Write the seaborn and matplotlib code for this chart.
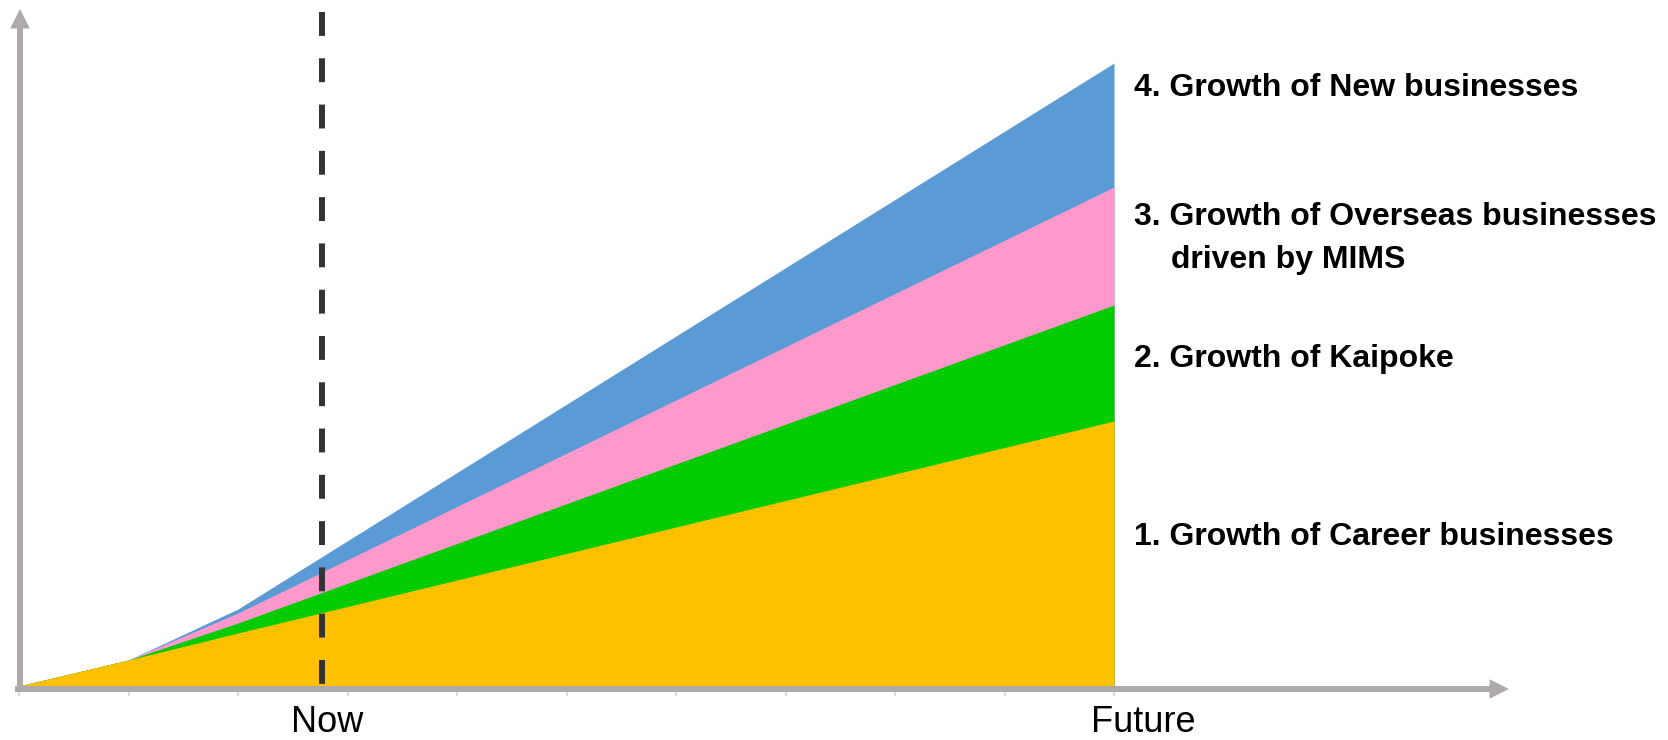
import matplotlib
matplotlib.use("Agg")
import matplotlib.pyplot as plt
import seaborn as sns

# ---- data (arbitrary units) ----
x_points = [0, 1, 2, 10]
career = [0, 26, 53, 265]
kaipoke = [0, 0, 10, 116]
overseas = [0, 0, 10, 118]
new_biz = [0, 0, 4, 124]

series_labels = ["1. Growth of Career businesses",
                 "2. Growth of Kaipoke",
                 "3. Growth of Overseas businesses",
                 "4. Growth of New businesses"]
label_second_line = "driven by MIMS"
tick_positions = list(range(11))
now_x = 2.77
future_x = 10
axis_labels = ["Now", "Future"]

colors = ["#FFC000", "#00CC00", "#FF99CC", "#5B9BD5"]
gray = "#AEAAAA"

sns.set_theme(style="white")
plt.rcParams['font.family'] = ['Liberation Sans', 'DejaVu Sans']

fig = plt.figure(figsize=(16.68, 7.4), dpi=100)
px_per_unit = 109.5
ax = fig.add_axes([19 / 1668, 54 / 740, 1649 / 1668, 686 / 740])
ax.set_xlim(0, 1649 / px_per_unit)
ax.set_ylim(0, 686)

# cumulative stacks, drawn from the baseline in reverse so no seams appear
layers = [career, kaipoke, overseas, new_biz]
cum = []
running = [0] * len(x_points)
for layer in layers:
    running = [a + b for a, b in zip(running, layer)]
    cum.append(running)
for top, col in reversed(list(zip(cum, colors))):
    ax.fill_between(x_points, 0, top, color=col, lw=0, zorder=1)

# ticks
ax.set_xticks(tick_positions)
ax.set_yticks([])
ax.tick_params(axis='x', bottom=True, length=7, width=1.5, color='#D9D9D9',
               direction='out', labelbottom=False)
sns.despine(ax=ax, left=True, bottom=True)

# axis lines with arrow heads
ax.plot([-4 / px_per_unit, 13.45], [-3, -3], color=gray, lw=4.3,
        solid_capstyle='butt', clip_on=False, zorder=3)
ax.plot([1 / px_per_unit, 1 / px_per_unit], [-6, 660], color=gray, lw=4.3,
        solid_capstyle='butt', clip_on=False, zorder=3)
head = dict(arrowstyle='-|>,head_length=0.7,head_width=0.35', color=gray,
            lw=0, shrinkA=0, shrinkB=0, mutation_scale=20)
ax.annotate('', xy=(13.607, -3), xytext=(13.0, -3), arrowprops=head,
            annotation_clip=False, zorder=3)
ax.annotate('', xy=(1 / px_per_unit, 677), xytext=(1 / px_per_unit, 600),
            arrowprops=head, annotation_clip=False, zorder=3)

# "Now" dashed line
ax.plot([now_x, now_x], [674, -2], color='#333333', lw=4.3,
        linestyle=(0, (4.0, 3.75)), dash_capstyle='butt', clip_on=False, zorder=4)

# series labels
label_x = (1134 - 19) / px_per_unit
label_y = [141, 319, 461, 590]
for lab, y in zip(series_labels, label_y):
    ax.text(label_x, y, lab, fontsize=23, fontweight='bold', color='black',
            ha='left', va='baseline', clip_on=False)
ax.text((1171 - 19) / px_per_unit, 418, label_second_line, fontsize=23,
        fontweight='bold', color='black', ha='left', va='baseline', clip_on=False)

# Now / Future labels
ax.text(2.81, -46, axis_labels[0], fontsize=26, ha='center', va='baseline',
        color='black', clip_on=False)
ax.text(10.27, -46, axis_labels[1], fontsize=26, ha='center', va='baseline',
        color='black', clip_on=False)

fig.savefig("out.png", dpi=100)
